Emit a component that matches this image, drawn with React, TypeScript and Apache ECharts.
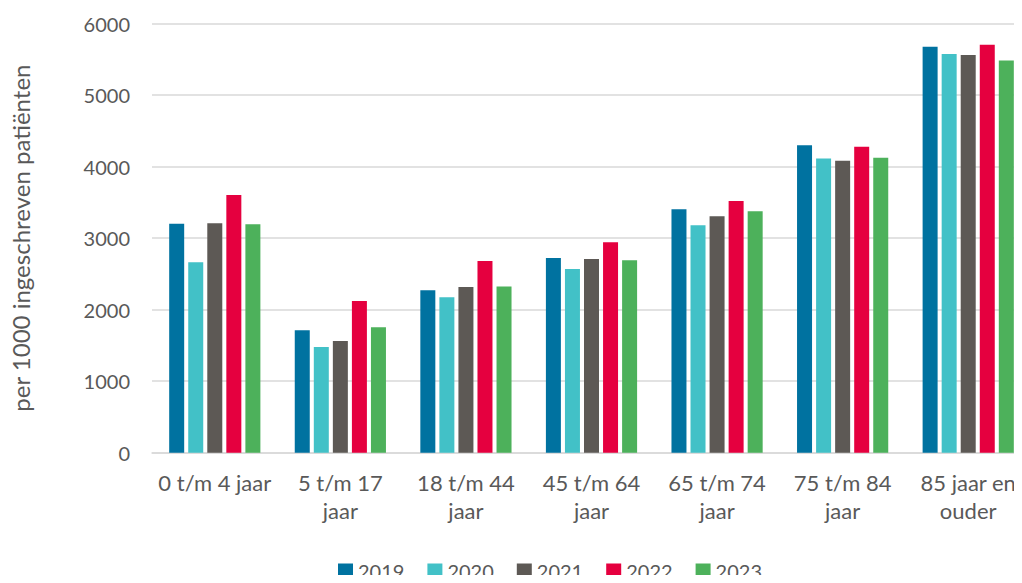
import React, { useEffect, useRef } from "react";
import * as echarts from "echarts";

const categories = [
  "0 t/m 4 jaar",
  "5 t/m 17\njaar",
  "18 t/m 44\njaar",
  "45 t/m 64\njaar",
  "65 t/m 74\njaar",
  "75 t/m 84\njaar",
  "85 jaar en\nouder",
];
const years = ["2019", "2020", "2021", "2022", "2023"];
const v2019 = [3199, 1712, 2271, 2723, 3404, 4299, 5674];
const v2020 = [2663, 1478, 2173, 2569, 3180, 4112, 5572];
const v2021 = [3208, 1562, 2317, 2709, 3306, 4080, 5558];
const v2022 = [3604, 2122, 2681, 2943, 3520, 4276, 5702];
const v2023 = [3194, 1754, 2322, 2691, 3376, 4122, 5483];
const seriesValues = [v2019, v2020, v2021, v2022, v2023];
const colors = ["#0072A0", "#42C1C7", "#5D5955", "#E5003F", "#4DB15B"];
const yTicks = [0, 1000, 2000, 3000, 4000, 5000, 6000];

export default function App() {
  const ref = useRef<HTMLDivElement>(null);
  useEffect(() => {
    if (!ref.current) return;
    const chart = echarts.init(ref.current, null, { renderer: "svg" });
    const font = "Lato, 'Open Sans', sans-serif";
    chart.setOption({
      animation: false,
      textStyle: { fontFamily: font },
      color: colors,
      grid: { left: 152, top: 23.5, width: 879, height: 429.2, containLabel: false },
      legend: {
        data: years,
        left: 338,
        top: 561,
        padding: 0,
        itemWidth: 15,
        itemHeight: 15,
        itemGap: 23,
        icon: "rect",
        textStyle: { fontSize: 20, color: "#595959", fontFamily: font },
      },
      xAxis: {
        type: "category",
        data: categories,
        axisLine: { lineStyle: { color: "#D9D9D9", width: 1.5 } },
        axisTick: { show: false },
        axisLabel: {
          fontSize: 22,
          color: "#595959",
          lineHeight: 28,
          margin: 16,
          interval: 0,
          fontFamily: font,
        },
      },
      yAxis: {
        type: "value",
        min: 0,
        max: 6000,
        interval: 1000,
        name: "per 1000 ingeschreven patiënten",
        nameLocation: "middle",
        nameGap: 120,
        nameRotate: 90,
        nameTextStyle: { fontSize: 24, color: "#595959", fontFamily: font },
        axisLine: { show: false },
        axisTick: { show: false },
        splitLine: { lineStyle: { color: "#D9D9D9", width: 1.5 } },
        axisLabel: {
          fontSize: 20,
          color: "#595959",
          margin: 22,
          fontFamily: font,
          formatter: (v: number) => (yTicks.includes(v) ? String(v) : ""),
        },
      },
      series: years.map((y, i) => ({
        name: y,
        type: "bar",
        data: seriesValues[i],
        barWidth: 15,
        barGap: "27%",
        itemStyle: { color: colors[i] },
      })),
    });
    return () => chart.dispose();
  }, []);
  return (
    <div style={{ width: 1022, height: 583, margin: -8, overflow: "hidden", position: "relative" }}>
      <div ref={ref} style={{ width: 1040, height: 583 }} />
    </div>
  );
}
